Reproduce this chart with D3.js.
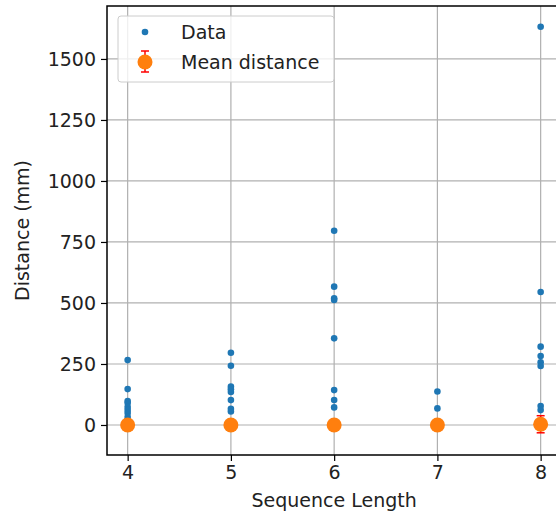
<!DOCTYPE html>
<html>
<head>
<meta charset="utf-8">
<script src="https://cdn.jsdelivr.net/npm/d3@7"></script>
<style>
  body { margin: 0; background: #fff; }
  text { font-family: "DejaVu Sans", sans-serif; fill: #222; }
</style>
</head>
<body>
<svg id="chart" width="556" height="516"></svg>
<script>
// sequence lengths and the individual distances
var lengths = [4, 5, 6, 7, 8];
var data4 = [266, 147, 98, 90, 74, 61, 49, 33, 20, 0];
var data5 = [296, 243, 157, 146, 135, 102, 66, 55, 0];
var data6 = [796, 567, 519, 512, 355, 143, 102, 72, 0];
var data7 = [137, 68, 0];
var data8 = [1632, 545, 321, 283, 257, 242, 78, 61, 0];
var meanDist = [0, 0, 0, 0, 3];
var meanErr = [2, 2, 2, 2, 35];
var yTicks = [0, 250, 500, 750, 1000, 1250, 1500];

var allData = [data4, data5, data6, data7, data8];
var points = [];
allData.forEach(function (vals, i) {
    vals.forEach(function (v) { points.push({ x: lengths[i], y: v }); });
});

var svg = d3.select("#chart");
var mLeft = 107, mTop = 6, mBottom = 455;
var fs = 19;

var x = d3.scaleLinear().domain([3.8, 8.2]).range([mLeft, mLeft + 4.4 * 103.25]);
var y = d3.scaleLinear().domain([-123, 1717]).range([mBottom, mTop]);

// grid
var grid = svg.append("g");
grid.selectAll(".gx").data(lengths).enter().append("line")
    .attr("x1", d => x(d)).attr("x2", d => x(d))
    .attr("y1", mTop).attr("y2", mBottom)
    .attr("stroke", "#b0b0b0").attr("stroke-width", 1.2);
grid.selectAll(".gy").data(yTicks).enter().append("line")
    .attr("x1", mLeft).attr("x2", 556)
    .attr("y1", d => y(d)).attr("y2", d => y(d))
    .attr("stroke", "#b0b0b0").attr("stroke-width", 1.2);

// data points
svg.append("g").selectAll("circle").data(points).enter().append("circle")
    .attr("cx", d => x(d.x)).attr("cy", d => y(d.y))
    .attr("r", 3.3).attr("fill", "#1f77b4");

// mean with error bars
var means = lengths.map((l, i) => ({ x: l, m: meanDist[i], e: meanErr[i] }));
var eb = svg.append("g");
eb.selectAll("line.v").data(means).enter().append("line")
    .attr("x1", d => x(d.x)).attr("x2", d => x(d.x))
    .attr("y1", d => y(d.m - d.e)).attr("y2", d => y(d.m + d.e))
    .attr("stroke", "red").attr("stroke-width", 1.5);
[-1, 1].forEach(function (s) {
    eb.selectAll("line.c" + s).data(means).enter().append("line")
        .attr("x1", d => x(d.x) - 4).attr("x2", d => x(d.x) + 4)
        .attr("y1", d => y(d.m + s * d.e)).attr("y2", d => y(d.m + s * d.e))
        .attr("stroke", "red").attr("stroke-width", 1.5);
});
eb.selectAll("circle").data(means).enter().append("circle")
    .attr("cx", d => x(d.x)).attr("cy", d => y(d.m))
    .attr("r", 7.5).attr("fill", "#ff7f0e");

// axes (ticks only, spines drawn below)
var xAxis = svg.append("g").attr("transform", "translate(0," + mBottom + ")")
    .call(d3.axisBottom(x).tickValues(lengths).tickFormat(d3.format("d")).tickSize(6).tickPadding(5));
var yAxis = svg.append("g").attr("transform", "translate(" + mLeft + ",0)")
    .call(d3.axisLeft(y).tickValues(yTicks).tickFormat(d3.format("d")).tickSize(6).tickPadding(5));
[xAxis, yAxis].forEach(function (a) {
    a.select(".domain").remove();
    a.selectAll(".tick line").attr("stroke", "#000").attr("stroke-width", 1.2);
    a.selectAll(".tick text").attr("font-size", fs).attr("fill", "#222")
        .attr("font-family", "DejaVu Sans");
});

// spines
svg.append("path")
    .attr("d", "M556," + mTop + "H" + mLeft + "V" + mBottom + "H556")
    .attr("fill", "none").attr("stroke", "#000").attr("stroke-width", 1.5);

svg.append("text").attr("x", x(6)).attr("y", 507).attr("text-anchor", "middle")
    .attr("font-size", fs).text("Sequence Length");
svg.append("text").attr("transform", "translate(29," + y(797) + ") rotate(-90)")
    .attr("text-anchor", "middle").attr("font-size", fs).text("Distance (mm)");

// legend
var lg = svg.append("g");
lg.append("rect").attr("x", 118).attr("y", 16).attr("width", 216).attr("height", 66)
    .attr("rx", 3).attr("fill", "rgba(255,255,255,0.8)").attr("stroke", "#ccc");
lg.append("circle").attr("cx", 145).attr("cy", 32).attr("r", 3.3).attr("fill", "#1f77b4");
lg.append("line").attr("x1", 145).attr("x2", 145).attr("y1", 51).attr("y2", 72)
    .attr("stroke", "red").attr("stroke-width", 1.5);
lg.append("line").attr("x1", 141).attr("x2", 149).attr("y1", 51).attr("y2", 51)
    .attr("stroke", "red").attr("stroke-width", 1.5);
lg.append("line").attr("x1", 141).attr("x2", 149).attr("y1", 72).attr("y2", 72)
    .attr("stroke", "red").attr("stroke-width", 1.5);
lg.append("circle").attr("cx", 145).attr("cy", 62).attr("r", 7.5).attr("fill", "#ff7f0e");
lg.append("text").attr("x", 181).attr("y", 38.5).attr("font-size", fs).text("Data");
lg.append("text").attr("x", 181).attr("y", 68.5).attr("font-size", fs).text("Mean distance");
</script>
</body>
</html>
